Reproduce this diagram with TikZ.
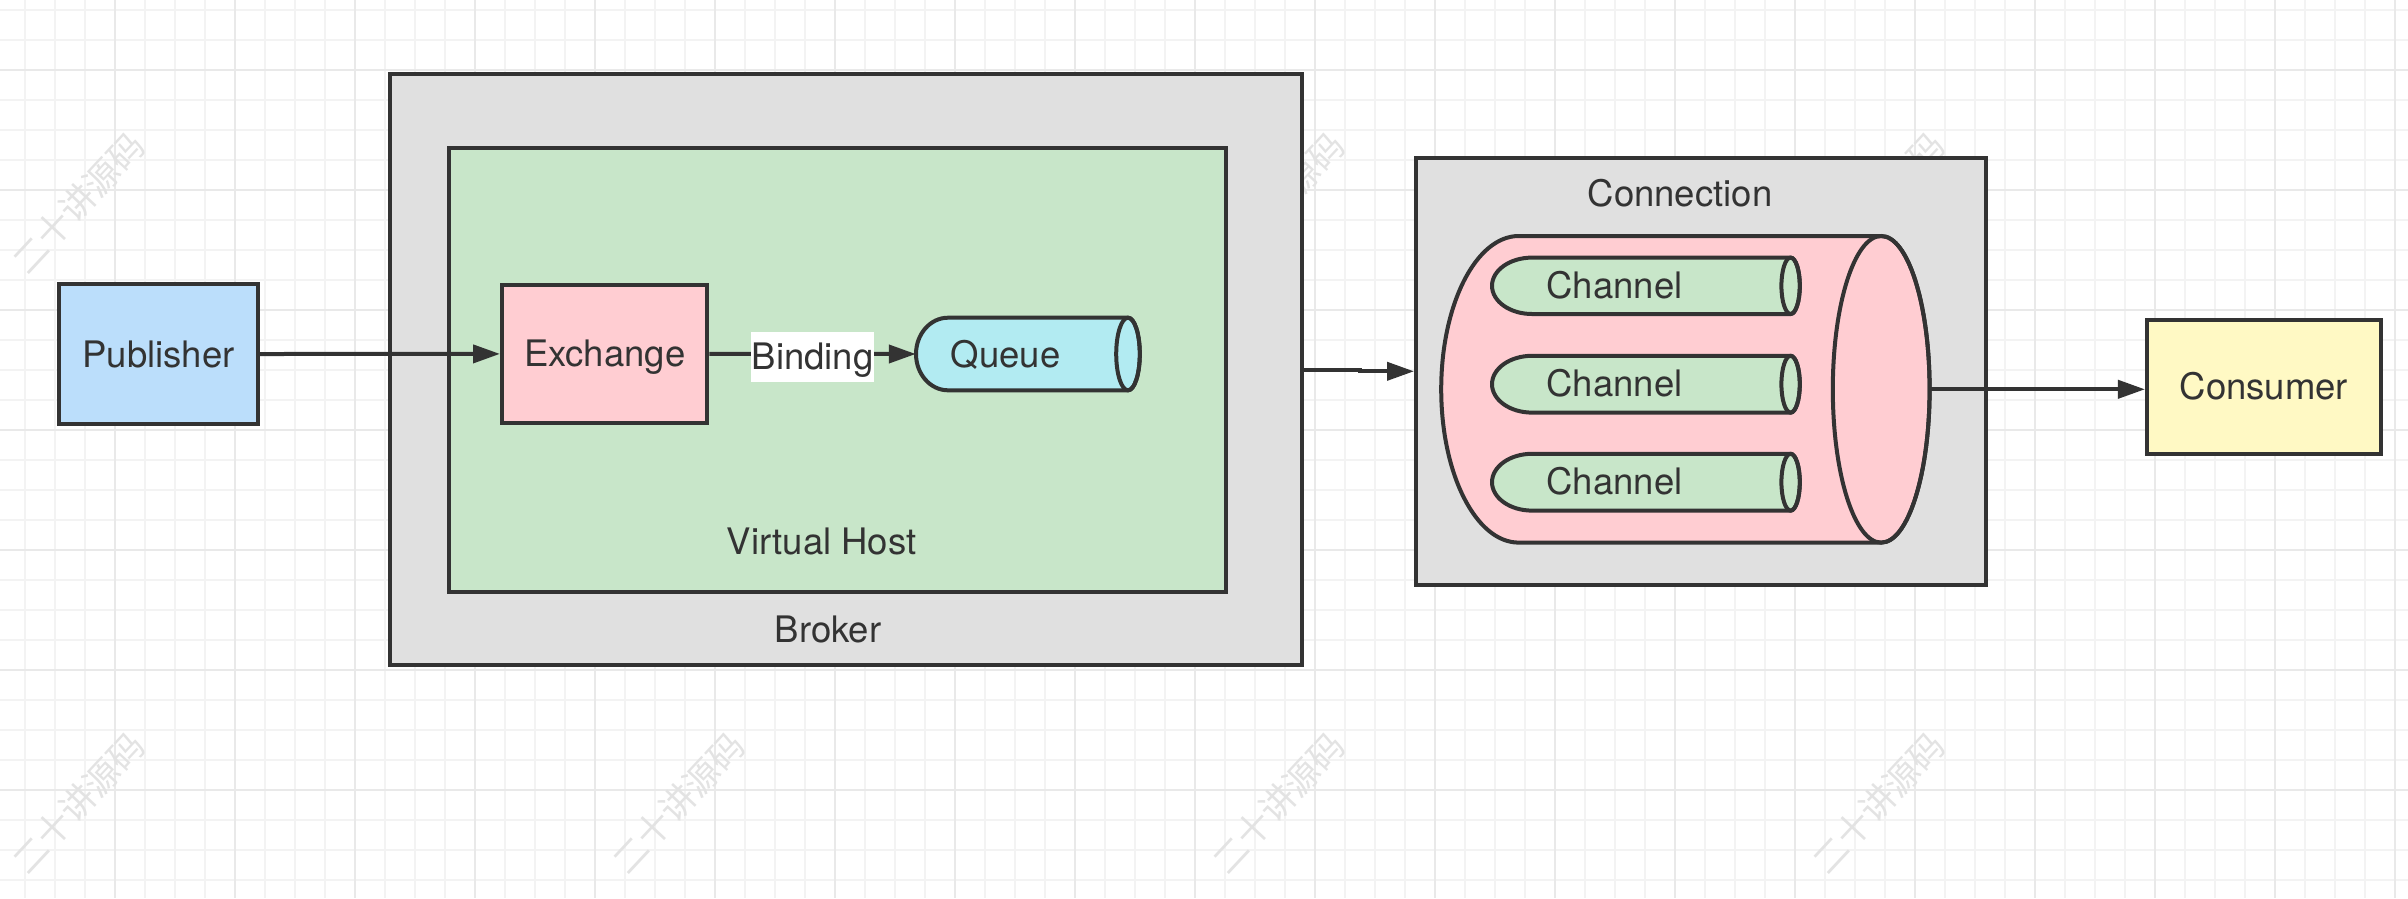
\documentclass[tikz,border=0pt]{standalone}
\usepackage{fontspec}
\setmainfont{TeX Gyre Heros}
\newfontfamily\cjkwm{Noto Sans CJK SC}
\usetikzlibrary{arrows.meta}
\definecolor{lc}{HTML}{333333}
\definecolor{gridminor}{HTML}{F3F3F3}
\definecolor{gridmajor}{HTML}{E9E9E9}
\definecolor{wmc}{HTML}{E3E3E3}
\definecolor{pubc}{HTML}{BBDEFB}
\definecolor{grayc}{HTML}{E0E0E0}
\definecolor{greenc}{HTML}{C8E6C9}
\definecolor{pinkc}{HTML}{FFCDD2}
\definecolor{queuec}{HTML}{B2EBF2}
\definecolor{consc}{HTML}{FFF9C4}
\newcommand{\lblfont}{\fontsize{36.5}{43}\selectfont}
\newcommand{\wmfont}{\cjkwm\fontsize{35}{40}\selectfont}
% #1 fill, #2 left cap centre x, #3 left rx, #4 right ellipse centre x, #5 right rx, #6 cy, #7 ry
\newcommand{\hcyl}[7]{%
  \filldraw[fill=#1,draw=lc,line width=4pt,line join=round]
    (#4,#6-#7) -- (#2,#6-#7)
    arc[start angle=270,end angle=90,x radius=#3,y radius=#7]
    -- (#4,#6+#7)
    arc[start angle=90,end angle=-90,x radius=#5,y radius=#7] -- cycle;
  \draw[draw=lc,line width=4pt] (#4,#6) ellipse[x radius=#5,y radius=#7];}
\begin{document}
\begin{tikzpicture}[x=1pt,y=-1pt,
  box/.style={draw=lc,line width=4pt,inner sep=0pt,text=lc,font=\lblfont,
              text height=26pt,text depth=0pt},
  lbl/.style={inner sep=0pt,text=lc,font=\lblfont,text height=26pt,text depth=0pt},
  ghost/.style={inner sep=0pt,draw=none},
  arr/.style={draw=lc,line width=4pt,-{Triangle[length=27pt,width=18pt]}},
  wm/.style={font=\wmfont,text=wmc,rotate=47,inner sep=0pt},
  bind/.style={fill=white,inner xsep=1pt,inner ysep=0pt,minimum height=50pt,
               text=lc,font=\lblfont,text height=26pt,text depth=0pt,yshift=-3pt}]
\useasboundingbox (0,0) rectangle (2408,898);
\fill[white] (0,0) rectangle (2408,898);
% grid
\foreach \x in {25,55,...,2400} \draw[gridminor,line width=2pt] (\x,0) -- (\x,898);
\foreach \y in {10,40,...,898} \draw[gridminor,line width=2pt] (0,\y) -- (2408,\y);
\foreach \x in {115,235,...,2400} \draw[gridmajor,line width=2pt] (\x,0) -- (\x,898);
\foreach \y in {70,190,...,898} \draw[gridmajor,line width=2pt] (0,\y) -- (2408,\y);
% watermarks
\node[wm] (wm1) at (78,203) {二十讲源码};
\node[wm] (wm2) at (678,203) {二十讲源码};
\node[wm] (wm3) at (1278,203) {二十讲源码};
\node[wm] (wm4) at (1878,203) {二十讲源码};
\node[wm] (wm5) at (78,803) {二十讲源码};
\node[wm] (wm6) at (678,803) {二十讲源码};
\node[wm] (wm7) at (1278,803) {二十讲源码};
\node[wm] (wm8) at (1878,803) {二十讲源码};
% broker
\node[box,fill=grayc,minimum width=911.6pt,minimum height=591pt] (broker) at (846.2,369.8) {};
\node[box,fill=greenc,minimum width=777.8pt,minimum height=444pt] (vhost) at (837.4,369.7) {};
\node[lbl] (vhlabel) at (821.7,541.7) {Virtual Host};
\node[lbl] (brlabel) at (828,629.7) {Broker};
\node[box,fill=pinkc,minimum width=205.4pt,minimum height=138.8pt] (exch) at (604.7,353.9) {Exchange};
\node[box,fill=pubc,minimum width=199pt,minimum height=140pt] (pub) at (158.5,354) {Publisher};
% queue
\hcyl{queuec}{948}{32}{1128}{11.8}{354}{36.3}
\node[ghost,minimum width=224pt,minimum height=72.6pt] (queue) at (1028,354) {};
\node[lbl] (qlabel) at (1005.7,354) {Queue};
% connection
\node[box,fill=grayc,minimum width=570pt,minimum height=427.3pt] (conn) at (1701,371.3) {};
\node[lbl] (connlabel) at (1680,193.8) {Connection};
\hcyl{pinkc}{1518.7}{77.5}{1881.2}{48.4}{389.3}{153.3}
\node[ghost,minimum width=488.5pt,minimum height=306.6pt] (cyl) at (1685.45,389.3) {};
\hcyl{greenc}{1532}{40}{1790.6}{9.2}{285.8}{28.2}
\hcyl{greenc}{1532}{40}{1790.6}{9.2}{384.2}{28.4}
\hcyl{greenc}{1532}{40}{1790.6}{9.2}{482.2}{28.4}
\node[ghost,minimum width=308pt,minimum height=56.4pt] (ch1) at (1645.7,285.8) {};
\node[ghost,minimum width=308pt,minimum height=56.8pt] (ch2) at (1645.7,384.2) {};
\node[ghost,minimum width=308pt,minimum height=56.8pt] (ch3) at (1645.7,482.2) {};
\node[lbl] (ch1label) at (1614.5,285.3) {Channel};
\node[lbl] (ch2label) at (1614.5,383.7) {Channel};
\node[lbl] (ch3label) at (1614.5,481.7) {Channel};
% consumer
\node[box,fill=consc,minimum width=233.7pt,minimum height=134.3pt] (cons) at (2263.8,386.8) {Consumer};
% connectors
\draw[arr] (pub.east) -- (exch.west);
\draw[arr] (exch.east) -- node[bind] (bindlabel) {Binding} (queue.west);
\draw[arr] (broker.east) -- ++(56,0) |- (conn.west);
\draw[arr] (cyl.east) -- (cyl.east -| cons.west);
\end{tikzpicture}
\end{document}
